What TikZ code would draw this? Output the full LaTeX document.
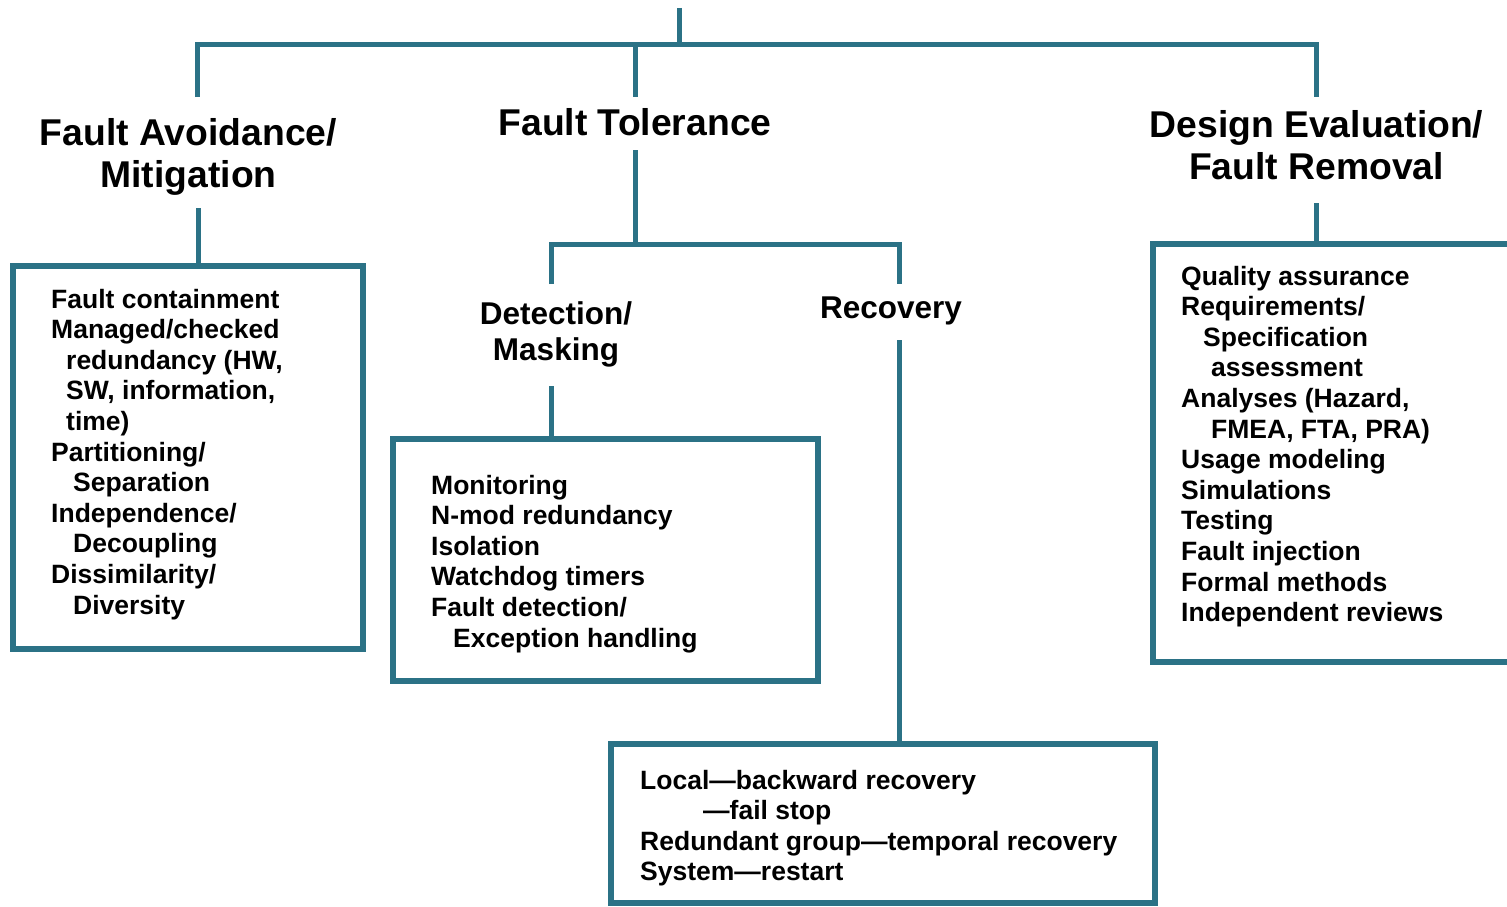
\documentclass[tikz,border=0pt]{standalone}
\usepackage{fontspec}
\setmainfont{Liberation Sans}
\definecolor{teal}{RGB}{43,114,134}
\begin{document}
\begin{tikzpicture}[x=1pt,y=-1pt,
  conn/.style={draw=teal,line width=5pt,line join=miter},
  boxstyle/.style={draw=teal,line width=5.5pt,rectangle,inner sep=0pt,fill=none},
  itemtxt/.style={anchor=base west,inner sep=0pt,font=\bfseries\fontsize{26.5}{30.6}\selectfont},
  headtxt/.style={anchor=base,inner sep=0pt,font=\bfseries\fontsize{37.3}{42.5}\selectfont},
  subtxt/.style={anchor=base,inner sep=0pt,font=\bfseries\fontsize{31.5}{36.5}\selectfont}]
\useasboundingbox (0,0) rectangle (1507,907);
\clip (0,0) rectangle (1507,907);

% headings
\node[headtxt] (avoid) at (188.5,145) {\begin{tabular}[t]{@{}c@{}}Fault Avoidance/\\Mitigation\end{tabular}};
\node[headtxt] (tol) at (635,135) {Fault Tolerance};
\node[headtxt] (design) at (1316.5,137) {\begin{tabular}[t]{@{}c@{}}Design Evaluation/\\Fault Removal\end{tabular}};
\node[subtxt] (detect) at (556,324) {\begin{tabular}[t]{@{}c@{}}Detection/\\Masking\end{tabular}};
\node[subtxt] (recov) at (891,318) {Recovery};

% boxes
\node[boxstyle,minimum width=350pt,minimum height=383pt] (box1) at (188,457.5) {};
\node[boxstyle,minimum width=425pt,minimum height=242pt] (box2) at (605.5,560) {};
\node[boxstyle,minimum width=544pt,minimum height=159pt] (box3) at (883,823.5) {};
\node[boxstyle,minimum width=380pt,minimum height=418pt] (box4) at (1343,453) {};

% box texts
\node[itemtxt] (txt1) at (51,308) {\begin{tabular}[t]{@{}l@{}}
Fault containment\\
Managed/checked\\
\hspace*{15pt}redundancy (HW,\\
\hspace*{15pt}SW, information,\\
\hspace*{15pt}time)\\
Partitioning/\\
\hspace*{22pt}Separation\\
Independence/\\
\hspace*{22pt}Decoupling\\
Dissimilarity/\\
\hspace*{22pt}Diversity
\end{tabular}};
\node[itemtxt] (txt2) at (431,494) {\begin{tabular}[t]{@{}l@{}}
Monitoring\\
N-mod redundancy\\
Isolation\\
Watchdog timers\\
Fault detection/\\
\hspace*{22pt}Exception handling
\end{tabular}};
\node[itemtxt] (txt3) at (640,789) {\begin{tabular}[t]{@{}l@{}}
Local---backward recovery\\
\hspace*{63pt}---fail stop\\
Redundant group---temporal recovery\\
System---restart
\end{tabular}};
\node[itemtxt] (txt4) at (1181,285) {\begin{tabular}[t]{@{}l@{}}
Quality assurance\\
Requirements/\\
\hspace*{22pt}Specification\\
\hspace*{30pt}assessment\\
Analyses (Hazard,\\
\hspace*{30pt}FMEA, FTA, PRA)\\
Usage modeling\\
Simulations\\
Testing\\
Fault injection\\
Formal methods\\
Independent reviews
\end{tabular}};

% connector coordinates
\coordinate (root) at (679,8);
\coordinate (bus) at (679,45);
\coordinate (aTop) at (197,97);
\coordinate (tTop) at (635,97);
\coordinate (dTop) at (1316,97);
\coordinate (aBot) at (198,208);
\coordinate (tBot) at (635,150);
\coordinate (sub) at (635,244);
\coordinate (detTop) at (551,284);
\coordinate (recTop) at (899,284);
\coordinate (detBot) at (551,386);
\coordinate (recBot) at (899,340);
\coordinate (desBot) at (1316,203);

% connectors
\draw[conn] (root) -- (bus);
\draw[conn] (aTop) -- (aTop |- bus) -- (dTop |- bus) -- (dTop);
\draw[conn] (tTop |- bus) -- (tTop);
\draw[conn] (aBot) -- (aBot |- box1.north);
\draw[conn] (tBot) -- (sub);
\draw[conn] (detTop) -- (detTop |- sub) -- (recTop |- sub) -- (recTop);
\draw[conn] (detBot) -- (detBot |- box2.north);
\draw[conn] (recBot) -- (recBot |- box3.north);
\draw[conn] (desBot) -- (desBot |- box4.north);
\end{tikzpicture}
\end{document}
